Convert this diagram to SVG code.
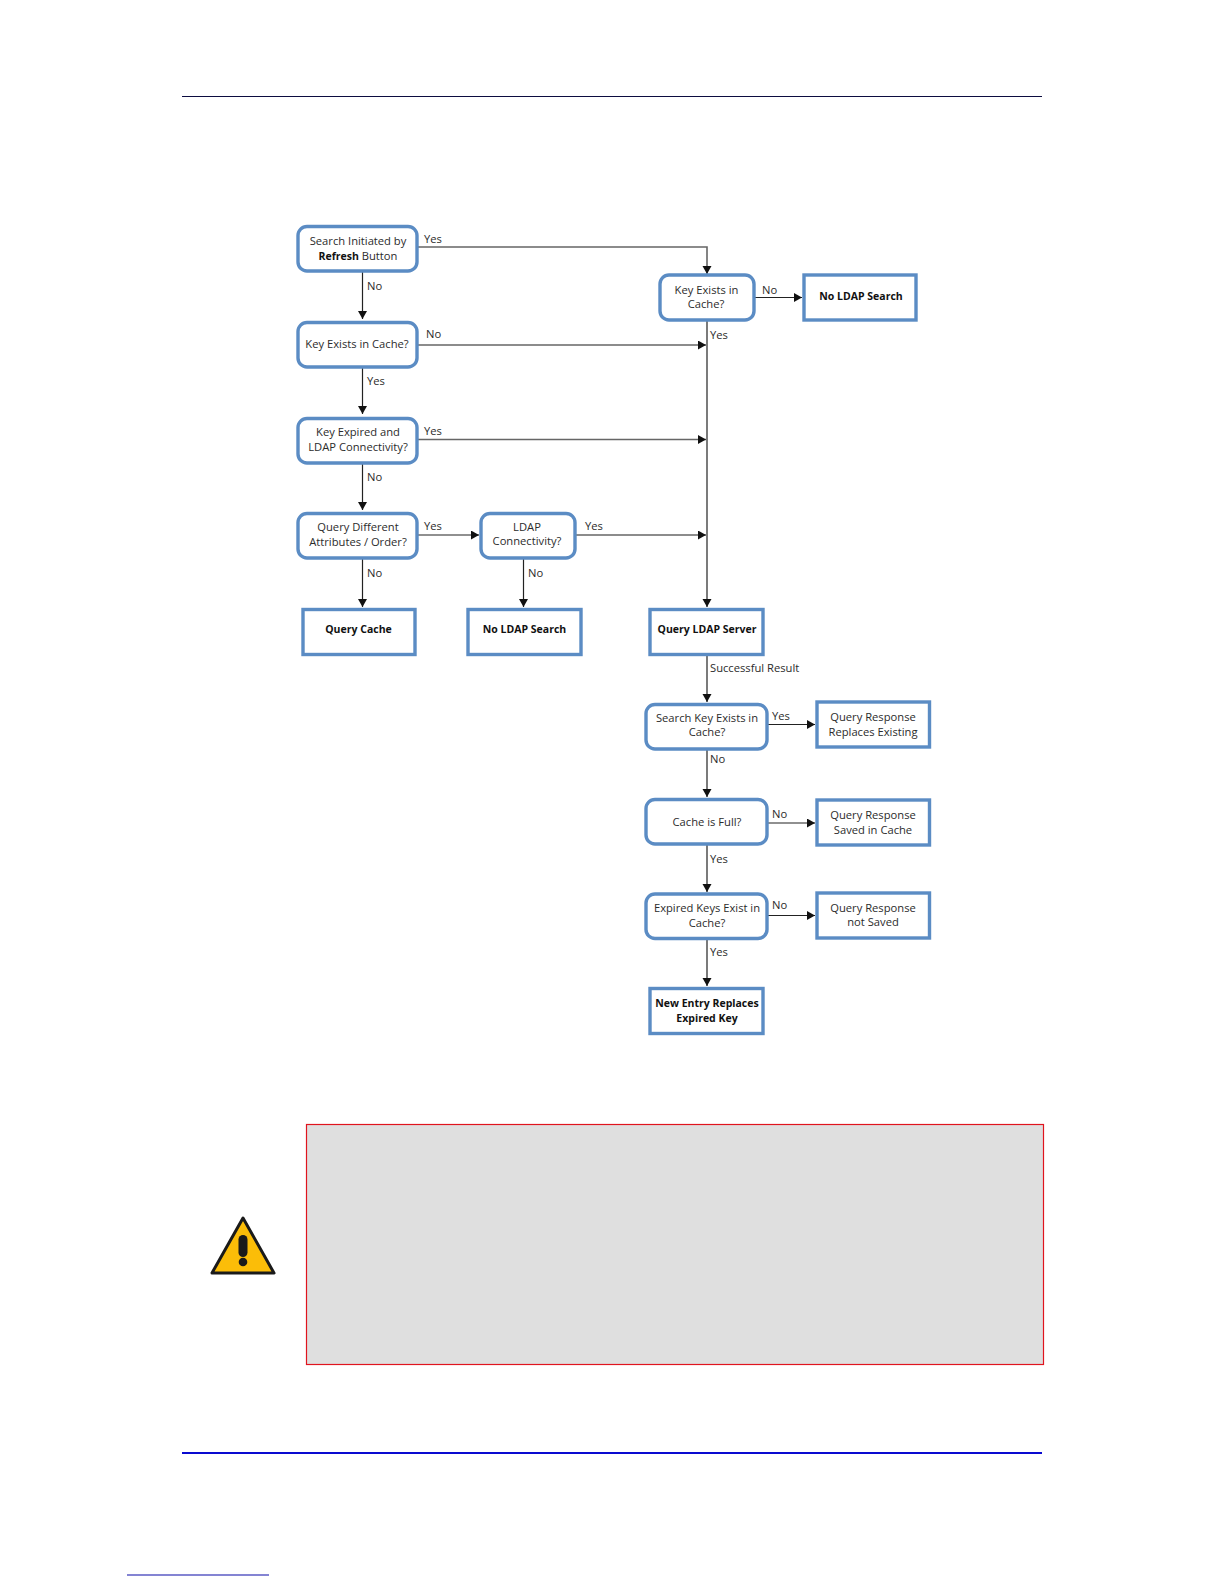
<svg xmlns="http://www.w3.org/2000/svg" width="1224" height="1584" viewBox="0 0 1224 1584">
<style>
text{font-family:"Open Sans","Noto Sans","Liberation Sans",sans-serif;font-size:11.2px;fill:#2b2b2b}
.t{text-anchor:middle}
.b{font-weight:700;fill:#111;font-size:10.5px}
.d rect{fill:#fff;stroke:#5b8cc4;stroke-width:3.4}
.c path{fill:none;stroke:#222;stroke-width:1.2}
.g path{stroke:#666;stroke-width:1.6}
</style>
<defs><marker id="a" markerUnits="userSpaceOnUse" markerWidth="10" markerHeight="10" refX="8" refY="4.500" orient="auto"><path d="M0 0L8 4.500L0 9Z" fill="#111"/></marker></defs>
<rect width="1224" height="1584" fill="#fff"/>
<path d="M182 96.500H1042" stroke="#0c0c40" stroke-width="1"/>
<path d="M182 1453H1042" stroke="#0a0ad0" stroke-width="1.8"/>
<path d="M127 1575H269" stroke="#0a0aa8" stroke-width="1.2"/>
<g id="connectors" class="c">
<g class="g"><path d="M418 247H707V274" marker-end="url(#a)"/><path d="M418 345H706" marker-end="url(#a)"/><path d="M418 439.500H706" marker-end="url(#a)"/><path d="M576 535H706" marker-end="url(#a)"/></g>
<path d="M362.500 272V319" marker-end="url(#a)"/>
<path d="M362.500 367V414" marker-end="url(#a)"/>
<path d="M362.500 463V510" marker-end="url(#a)"/>
<path d="M362.500 558V607" marker-end="url(#a)"/>
<path d="M418 535H479" marker-end="url(#a)"/>
<path d="M523.500 558V607" marker-end="url(#a)"/>
<path d="M755 297.500H802" marker-end="url(#a)"/>
<path d="M707 321V607" marker-end="url(#a)"/>
<path d="M707 655V702" marker-end="url(#a)"/>
<path d="M707 750V797" marker-end="url(#a)"/>
<path d="M707 845V892" marker-end="url(#a)"/>
<path d="M707 940V986" marker-end="url(#a)"/>
<path d="M768 724.500H815" marker-end="url(#a)"/>
<path d="M768 823H815" marker-end="url(#a)"/>
<path d="M768 915.500H815" marker-end="url(#a)"/>
</g>
<g id="edge-labels">
<text x="424" y="243">Yes</text><text x="367" y="290">No</text><text x="426" y="338">No</text><text x="367" y="385">Yes</text><text x="424" y="435">Yes</text><text x="367" y="481">No</text><text x="424" y="530">Yes</text><text x="367" y="577">No</text><text x="528" y="577">No</text><text x="585" y="530">Yes</text><text x="762" y="294">No</text><text x="710" y="339">Yes</text><text x="710" y="672">Successful Result</text><text x="772" y="720">Yes</text><text x="710" y="763">No</text><text x="772" y="818">No</text><text x="710" y="863">Yes</text><text x="772" y="909">No</text><text x="710" y="956">Yes</text>
</g>
<g id="n1" class="d"><rect x="298" y="226.500" width="119" height="44.500" rx="9"/><text class="t" x="358" y="245">Search Initiated by</text><text class="t" x="358" y="260"><tspan class="b">Refresh</tspan> Button</text></g>
<g id="n2" class="d"><rect x="298" y="322.500" width="119" height="44.500" rx="9"/><text class="t" x="357" y="348">Key Exists in Cache?</text></g>
<g id="n3" class="d"><rect x="298" y="418.500" width="119" height="44.500" rx="9"/><text class="t" x="358" y="436">Key Expired and</text><text class="t" x="358" y="451">LDAP Connectivity?</text></g>
<g id="n4" class="d"><rect x="298" y="513.500" width="119" height="44.500" rx="9"/><text class="t" x="358" y="531">Query Different</text><text class="t" x="358" y="546">Attributes / Order?</text></g>
<g id="n5" class="d"><rect x="481" y="513.500" width="94" height="44.500" rx="9"/><text class="t" x="527" y="531">LDAP</text><text class="t" x="527" y="545">Connectivity?</text></g>
<g id="n6" class="d"><rect x="303" y="609.500" width="112" height="45"/><text class="t b" x="358.500" y="633">Query Cache</text></g>
<g id="n7" class="d"><rect x="468" y="609.500" width="113" height="45"/><text class="t b" x="524.500" y="633">No LDAP Search</text></g>
<g id="n8" class="d"><rect x="650" y="609.500" width="113" height="45"/><text class="t b" x="707" y="633">Query LDAP Server</text></g>
<g id="n9" class="d"><rect x="660" y="275" width="94" height="45" rx="9"/><text class="t" x="706.500" y="294">Key Exists in</text><text class="t" x="706" y="308">Cache?</text></g>
<g id="n10" class="d"><rect x="804" y="275" width="112" height="45"/><text class="t b" x="861" y="300">No LDAP Search</text></g>
<g id="n11" class="d"><rect x="646" y="704.500" width="121" height="44.500" rx="9"/><text class="t" x="707" y="722">Search Key Exists in</text><text class="t" x="707" y="736">Cache?</text></g>
<g id="n12" class="d"><rect x="817" y="702" width="112.500" height="45"/><text class="t" x="873" y="721">Query Response</text><text class="t" x="873" y="736">Replaces Existing</text></g>
<g id="n13" class="d"><rect x="646" y="799.500" width="121" height="44.500" rx="9"/><text class="t" x="707" y="826">Cache is Full?</text></g>
<g id="n14" class="d"><rect x="817" y="800" width="112.500" height="45"/><text class="t" x="873" y="819">Query Response</text><text class="t" x="873" y="834">Saved in Cache</text></g>
<g id="n15" class="d"><rect x="646" y="894" width="121" height="44.500" rx="9"/><text class="t" x="707" y="912">Expired Keys Exist in</text><text class="t" x="707" y="927">Cache?</text></g>
<g id="n16" class="d"><rect x="817" y="893" width="112.500" height="45"/><text class="t" x="873" y="912">Query Response</text><text class="t" x="873" y="926">not Saved</text></g>
<g id="n17" class="d"><rect x="650" y="988.500" width="113" height="45"/><text class="t b" x="707" y="1007">New Entry Replaces</text><text class="t b" x="707" y="1022">Expired Key</text></g>
<rect x="306.500" y="1124.500" width="737" height="240" fill="#dfdfdf" stroke="#e0141e" stroke-width="1.2"/>
<g id="warning"><path d="M243 1218L274 1273H212Z" fill="#fbbd08" stroke="#1a1a1a" stroke-width="3" stroke-linejoin="round"/><rect x="238.500" y="1235" width="9" height="22" rx="4.500" fill="#1a1a1a"/><circle cx="243" cy="1262" r="4.300" fill="#1a1a1a"/></g>
</svg>
